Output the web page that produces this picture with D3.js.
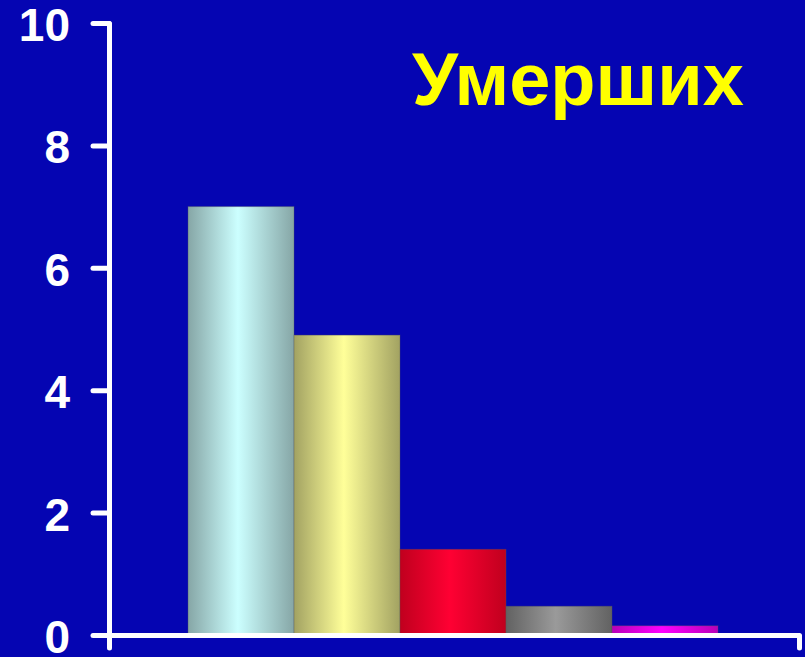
<!DOCTYPE html>
<html>
<head>
<meta charset="utf-8">
<script src="https://cdn.jsdelivr.net/npm/d3@7"></script>
<style>
  html, body { margin: 0; padding: 0; background: #0505B2; }
  svg { display: block; }
</style>
</head>
<body>
<svg id="chart" width="805" height="657"></svg>
<script>
// Data
const categories = ["1", "2", "3", "4", "5"];
const values = [7.0, 4.9, 1.4, 0.47, 0.15];
const yTicks = [0, 2, 4, 6, 8, 10];
const title = "Умерших";

// Bar gradient colours: [edge, centre]
const barColors = [
  ["#86A6A6", "#CCFFFF"],
  ["#A2A262", "#FFFF99"],
  ["#C0001E", "#FF0033"],
  ["#626262", "#9A9A9A"],
  ["#B800B8", "#FF00FF"]
];

const W = 805, H = 657;
const svg = d3.select("#chart");

svg.append("rect").attr("width", W).attr("height", H).attr("fill", "#0505B2");

const x = d3.scaleBand()
  .domain(categories)
  .range([108, 798])
  .paddingInner(0)
  .paddingOuter(0.755);

const y = d3.scaleLinear().domain([0, 10]).range([635, 23]);

// Gradients
const defs = svg.append("defs");
barColors.forEach((c, i) => {
  const g = defs.append("linearGradient")
    .attr("id", "grad" + i)
    .attr("x1", "0%").attr("x2", "100%")
    .attr("y1", "0%").attr("y2", "0%");
  g.append("stop").attr("offset", "0%").attr("stop-color", c[0]);
  g.append("stop").attr("offset", "47%").attr("stop-color", c[1]);
  g.append("stop").attr("offset", "100%").attr("stop-color", c[0]);
});

// Bars
svg.append("g")
  .selectAll("rect")
  .data(values)
  .join("rect")
  .attr("x", (d, i) => x(categories[i]))
  .attr("width", x.bandwidth())
  .attr("y", d => y(d))
  .attr("height", d => y(0) - y(d))
  .attr("fill", (d, i) => `url(#grad${i})`)
  .attr("stroke", "rgba(90,90,90,0.35)")
  .attr("stroke-width", 1);

// Y axis
const yAxis = svg.append("g")
  .attr("transform", `translate(109,0)`)
  .call(d3.axisLeft(y).tickValues(yTicks).tickSize(16).tickSizeOuter(0).tickPadding(23)
    .tickFormat(d3.format("d")));

yAxis.select(".domain").attr("stroke", "#fff").attr("stroke-width", 5)
  .attr("stroke-linecap", "round").attr("stroke-linejoin", "round");
yAxis.selectAll(".tick line").attr("stroke", "#fff").attr("stroke-width", 5)
  .attr("stroke-linecap", "round");
yAxis.selectAll(".tick text")
  .attr("fill", "#fff")
  .attr("font-family", "Liberation Sans, Arial, sans-serif")
  .attr("font-weight", "bold")
  .attr("font-size", 46)
  .attr("dy", "0.38em");

// X axis (no labels, outer ticks at both ends)
const xAxis = svg.append("g")
  .attr("transform", `translate(0,${y(0)})`)
  .call(d3.axisBottom(d3.scaleLinear().domain([0, 1]).range([109, 799]))
    .tickValues([]).tickSizeOuter(13));

xAxis.select(".domain").attr("stroke", "#fff").attr("stroke-width", 5)
  .attr("fill", "none")
  .attr("stroke-linecap", "round").attr("stroke-linejoin", "round");

// Title
svg.append("text")
  .attr("x", 578)
  .attr("y", 105)
  .attr("text-anchor", "middle")
  .attr("fill", "#FFFF00")
  .attr("font-family", "Liberation Sans, Arial, sans-serif")
  .attr("font-weight", "bold")
  .attr("font-size", 74)
  .text(title);
</script>
</body>
</html>
